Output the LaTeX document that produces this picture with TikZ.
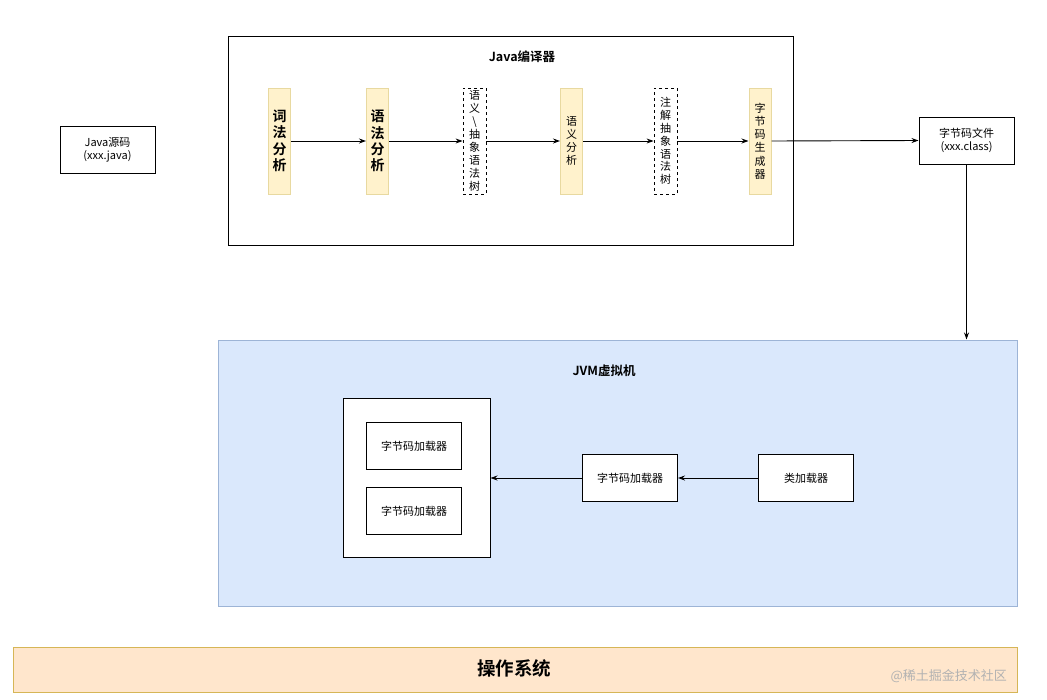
\documentclass[tikz,border=0pt]{standalone}
\usepackage{fontspec}
\setmainfont{Noto Sans CJK SC}[BoldFont={Noto Sans CJK SC Bold}]
\usetikzlibrary{arrows.meta,positioning}
\definecolor{barfill}{HTML}{FFF2CC}
\definecolor{bardraw}{HTML}{E8D9A0}
\definecolor{jvmfill}{HTML}{DAE8FC}
\definecolor{jvmdraw}{HTML}{9DB4D6}
\definecolor{osfill}{HTML}{FFE6CC}
\definecolor{osdraw}{HTML}{D6B656}
\tikzset{%
  box/.style={draw,fill=white,align=center,line width=1pt,inner sep=2pt,
    font=\fontsize{11}{13}\selectfont},
  bar/.style={draw=bardraw,fill=barfill,align=center,line width=1pt,inner sep=0pt,
    minimum width=22pt,minimum height=106pt},
  dashbar/.style={draw,dashed,fill=white,align=center,line width=0.8pt,inner sep=0pt,
    minimum width=23pt,minimum height=106pt,font=\fontsize{11}{13}\selectfont},
  arrow/.style={-{Stealth[length=7pt,width=5pt]},line width=0.9pt}%
}

\begin{document}
\begin{tikzpicture}[
    x=1pt, y=-1pt,
    title/.style={font=\bfseries\fontsize{12.5}{14}\selectfont},
    loader/.style={box,minimum width=95pt,minimum height=47pt}
]
\useasboundingbox (0,0) rectangle (1047,699);

% Source file
\node[box,minimum width=95pt,minimum height=47pt] (src) at (107.5,149.5) {Java源码\\(xxx.java)};

% Java compiler
\node[draw,line width=1pt,minimum width=565pt,minimum height=209pt] (javac) at (510.5,140.5) {};
\node[title] (javactitle) at (522,57) {Java编译器};

\node[bar,font=\bfseries\fontsize{14}{16.4}\selectfont] (lex) at (279.5,141) {词\\法\\分\\析};
\node[bar,font=\bfseries\fontsize{14}{16.4}\selectfont] (parse) at (377.5,141) {语\\法\\分\\析};
\node[dashbar,font=\fontsize{11}{13.1}\selectfont] (ast) at (474.5,141) {语\\义\\\textbackslash\\抽\\象\\语\\法\\树};
\node[bar,font=\fontsize{11}{13}\selectfont] (sema) at (571.5,141) {语\\义\\分\\析};
\node[dashbar,font=\fontsize{11}{12.8}\selectfont] (aast) at (665.5,141) {注\\解\\抽\\象\\语\\法\\树};
\node[bar,font=\fontsize{11}{13.2}\selectfont] (gen) at (760,141) {字\\节\\码\\生\\成\\器};

% Bytecode file
\node[box,minimum width=95pt,minimum height=47pt] (cls) at (966.5,140.5) {字节码文件\\(xxx.class)};

% JVM
\node[draw=jvmdraw,fill=jvmfill,line width=1pt,minimum width=799pt,minimum height=266pt] (jvm) at (617.5,473) {};
\node[title] (jvmtitle) at (604,371) {JVM虚拟机};

\node[box,minimum width=147pt,minimum height=159pt] (area) at (416.5,478) {};
\node[loader] (load1) at (414,446) {字节码加载器};
\node[loader] (load2) at (414,511) {字节码加载器};
\node[loader] (load3) at (630,478) {字节码加载器};
\node[loader] (clsload) at (806,478) {类加载器};

% Operating system
\node[draw=osdraw,fill=osfill,line width=1pt,minimum width=1004pt,minimum height=45pt] (os) at (515,669.5) {};
\node[font=\bfseries\fontsize{18.5}{20}\selectfont] (ostext) at (514,668) {操作系统};
\node[anchor=east,text=black!30,font=\fontsize{13}{14}\selectfont,inner sep=0pt] (mark) at (1007,676) {@稀土掘金技术社区};

% Connections
\draw[arrow] (lex) -- (parse);
\draw[arrow] (parse) -- (ast);
\draw[arrow] (ast) -- (sema);
\draw[arrow] (sema) -- (aast);
\draw[arrow] (aast) -- (gen);
\draw[arrow] (gen.east) -- (cls.west);
\draw[arrow] (cls.south) -- (cls.south |- jvm.north);
\draw[arrow] (clsload) -- (load3);
\draw[arrow] (load3) -- (area);

\end{tikzpicture}
\end{document}
